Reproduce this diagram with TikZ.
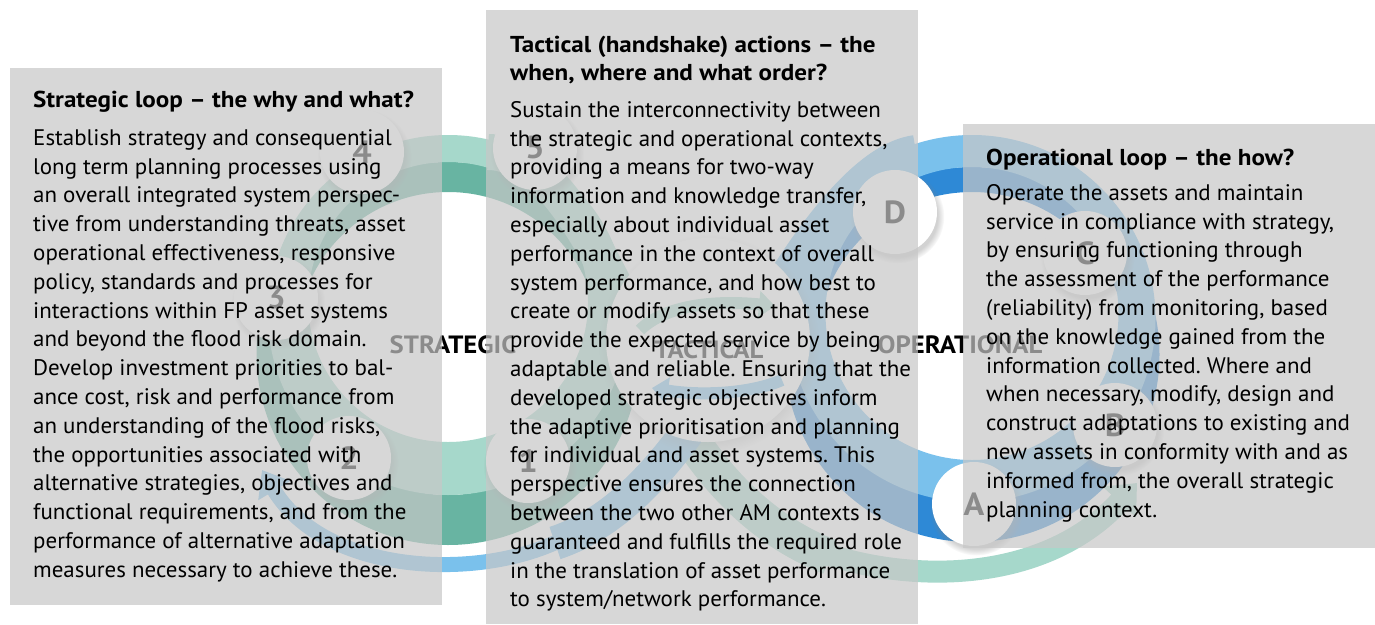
\documentclass[tikz,border=0pt]{standalone}
\usepackage{fontspec}
\setmainfont{PT Sans}[FakeStretch=1.02]
\newfontfamily\headfont{PT Sans}[FakeStretch=1.09]
\newfontfamily\labelfont{PT Sans}[FakeStretch=1.07]
\usetikzlibrary{arrows.meta,shadows}
\definecolor{tealL}{HTML}{A6D8CB}
\definecolor{tealD}{HTML}{68B4A2}
\definecolor{blueL}{HTML}{7AC1EC}
\definecolor{blueD}{HTML}{2E89D6}
\definecolor{boxgray}{RGB}{199,199,199}
\frenchspacing
\begin{document}
\begin{tikzpicture}[x=1pt,y=-1pt,
  panel/.style={fill=boxgray, fill opacity=0.7, draw=none},
  bodytext/.style={anchor=north west, inner sep=0pt, align=left, font=\frenchspacing\fontsize{22.5}{28.8}\selectfont},
  headtext/.style={anchor=north west, inner sep=0pt, align=left, font=\headfont\bfseries\fontsize{23}{28}\selectfont},
  stepcircle/.style={circle, fill=white, minimum size=84pt, inner sep=0pt,
     font=\labelfont\bfseries\fontsize{32}{32}\selectfont, text=black,
     circular drop shadow={shadow xshift=2pt, shadow yshift=-4pt, shadow scale=1.12, opacity=0.35}},
  looplabel/.style={font=\labelfont\bfseries\fontsize{25}{25}\selectfont, anchor=base, inner sep=0pt, text=black}
]
\useasboundingbox (0,0) rectangle (1375,624);
\fill[white] (0,0) rectangle (1375,624);

% ---- handshake tails
\draw[blueL, line width=15pt, -{Triangle[length=24pt,width=36pt]}] (565,538) .. controls (480,582) and (325,575) .. (262,470);
\draw[tealL, line width=22pt, -{Triangle[length=26pt,width=44pt]}] (815,550) .. controls (900,582) and (1040,588) .. (1137,483);

% ---- strategic ring
\fill[tealD, even odd rule] (448,353.5) circle[radius=191.5pt] (448,343.5) circle[radius=151.5pt];
\fill[tealL, even odd rule] (448,315) circle[radius=180pt] (448,302) circle[radius=140pt];
% ---- operational ring
\fill[blueD, even odd rule] (972,354.5) circle[radius=187.5pt] (972,347) circle[radius=155pt];
\fill[blueL, even odd rule] (972,318.5) circle[radius=183.5pt] (972,313.5) circle[radius=146.5pt];

% ---- handshake diagonals
\draw[tealL, line width=36pt] (488,152) .. controls (548,152) and (595,240) .. (640,340) .. controls (680,440) and (740,522) .. (830,557);
\draw[blueL, line width=34pt] (916,152) .. controls (870,158) and (815,225) .. (760,320) .. controls (700,420) and (640,515) .. (555,543);

% ---- tactical disc
\node[circle, fill=white, minimum size=204pt, inner sep=0pt,
      circular drop shadow={shadow xshift=1pt, shadow yshift=-4pt, shadow scale=1.08, opacity=0.35}] (tdisc) at (708,340) {};
\draw[tealL, line width=12pt, -{Triangle[length=16pt,width=26pt]}] (640,330) .. controls (665,305) and (715,300) .. (775,306);
\draw[blueL, line width=12pt, -{Triangle[length=16pt,width=26pt]}] (782,380) .. controls (750,394) and (700,396) .. (652,388);

% ---- step circles
\node[stepcircle] (s4) at (362,152) {4};
\node[stepcircle] (s5) at (535,148) {5};
\node[stepcircle] (s3) at (276,298) {3};
\node[stepcircle] (s2) at (349,458) {2};
\node[stepcircle] (s1) at (528,461) {1};
\node[stepcircle] (sD) at (895,212) {D};
\node[stepcircle] (sC) at (1085,253) {C};
\node[stepcircle] (sB) at (1115,425) {B};
\node[stepcircle] (sA) at (974,504) {A};

% ---- loop labels
\node[looplabel] (lstrat) at (453,353) {STRATEGIC};
\node[looplabel] (ltact) at (709,358) {TACTICAL};
\node[looplabel] (loper) at (960,353) {OPERATIONAL};

% ---- panels
\fill[panel] (10,68) rectangle (442,605);
\fill[panel] (486,10) rectangle (918,624);
\fill[panel] (963,124) rectangle (1375,548);

% ---- panel texts
\node[headtext] (lhead) at (33,87) {\rule{0pt}{20pt}Strategic loop – the why and what?};
\node[bodytext] (lbody) at (33,125) {\rule{0pt}{20pt}Establish strategy and consequential\\
long term planning processes using\\
an overall integrated system perspec-\\
tive from understanding threats, asset\\
operational effectiveness, responsive\\
policy, standards and processes for\\
interactions within FP asset systems\\
and beyond the flood risk domain.\\
Develop investment priorities to bal-\\
ance cost, risk and performance from\\
an understanding of the flood risks,\\
the opportunities associated with\\
alternative strategies, objectives and\\
functional requirements, and from the\\
performance of alternative adaptation\\
measures necessary to achieve these.};

\node[headtext] (mhead) at (510,32) {\rule{0pt}{20pt}Tactical (handshake) actions – the\\
when, where and what order?};
\node[bodytext] (mbody) at (510,97) {\rule{0pt}{20pt}Sustain the interconnectivity between\\
the strategic and operational contexts,\\
providing a means for two-way\\
information and knowledge transfer,\\
especially about individual asset\\
performance in the context of overall\\
system performance, and how best to\\
create or modify assets so that these\\
provide the expected service by being\\
adaptable and reliable. Ensuring that the\\
developed strategic objectives inform\\
the adaptive prioritisation and planning\\
for individual and asset systems. This\\
perspective ensures the connection\\
between the two other AM contexts is\\
guaranteed and fulfills the required role\\
in the translation of asset performance\\
to system/network performance.};

\node[headtext] (rhead) at (986,145) {\rule{0pt}{20pt}Operational loop – the how?};
\node[bodytext] (rbody) at (986,180) {\rule{0pt}{20pt}Operate the assets and maintain\\
service in compliance with strategy,\\
by ensuring functioning through\\
the assessment of the performance\\
(reliability) from monitoring, based\\
on the knowledge gained from the\\
information collected. Where and\\
when necessary, modify, design and\\
construct adaptations to existing and\\
new assets in conformity with and as\\
informed from, the overall strategic\\
planning context.};
\end{tikzpicture}
\end{document}
